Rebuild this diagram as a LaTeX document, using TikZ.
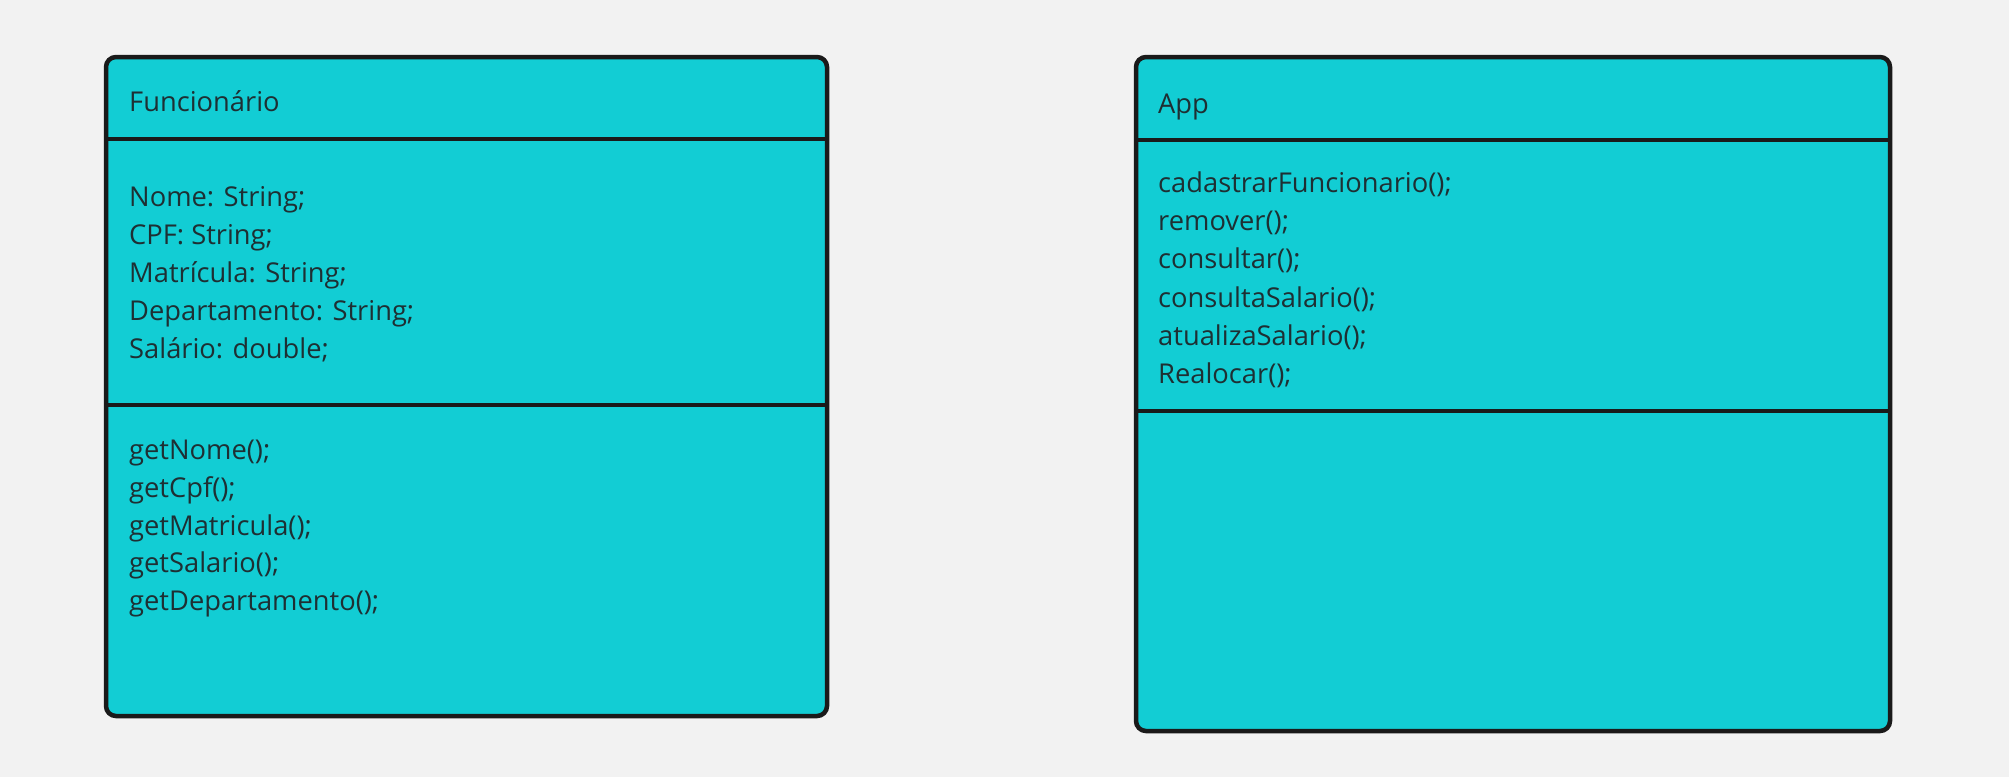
\documentclass[tikz,border=0pt]{standalone}
\usepackage{fontspec}
\setmainfont{Open Sans}
\definecolor{bg}{HTML}{F2F2F2}
\definecolor{cyanfill}{HTML}{12CDD4}
\definecolor{edge}{HTML}{1A1A1A}
\definecolor{txt}{HTML}{1E2F33}
\begin{document}
\begin{tikzpicture}[x=1pt,y=-1pt,
  classbox/.style={draw=edge,fill=cyanfill,line width=4.5pt,rounded corners=10pt},
  divider/.style={draw=edge,line width=4.5pt},
  label/.style={anchor=base west,inner sep=0pt,text=txt,font=\fontsize{27.3pt}{38pt}\selectfont}]
\path[fill=bg] (0,0) rectangle (2009,777);
\useasboundingbox (0,0) rectangle (2009,777);
% Funcionario
\path[classbox] (106,57) rectangle (827,716);
\draw[divider] (106,139) -- (827,139);
\draw[divider] (106,405) -- (827,405);
\node[label] (ftitle) at (129,111) {Funcionário};
\node[label] (fa1) at (129,206) {Nome: String;};
\node[label] (fa2) at (129,244) {CPF: String;};
\node[label] (fa3) at (129,282) {Matrícula: String;};
\node[label] (fa4) at (129,320) {Departamento: String;};
\node[label] (fa5) at (129,358) {Salário: double;};
\node[label] (fm1) at (129,459) {getNome();};
\node[label] (fm2) at (129,497) {getCpf();};
\node[label] (fm3) at (129,535) {getMatricula();};
\node[label] (fm4) at (129,572) {getSalario();};
\node[label] (fm5) at (129,610) {getDepartamento();};
% App
\path[classbox] (1136,57) rectangle (1890,731);
\draw[divider] (1136,140) -- (1890,140);
\draw[divider] (1136,411) -- (1890,411);
\node[label] (atitle) at (1158,113) {App};
\node[label] (am1) at (1158,192) {cadastrarFuncionario();};
\node[label] (am2) at (1158,230) {remover();};
\node[label] (am3) at (1158,268.5) {consultar();};
\node[label] (am4) at (1158,307) {consultaSalario();};
\node[label] (am5) at (1158,345) {atualizaSalario();};
\node[label] (am6) at (1158,383.5) {Realocar();};
\end{tikzpicture}
\end{document}
